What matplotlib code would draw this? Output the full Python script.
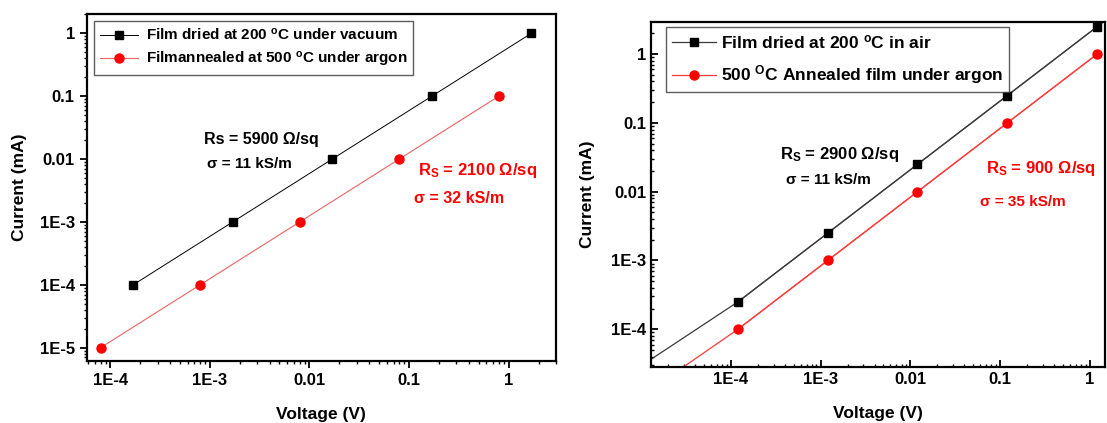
import numpy as np
import matplotlib
matplotlib.use("Agg")
import matplotlib.pyplot as plt
from matplotlib.ticker import FixedLocator, FixedFormatter, LogLocator, NullFormatter

plt.rcParams['font.family'] = ['Liberation Sans', 'DejaVu Sans']
plt.rcParams['font.weight'] = 'bold'
plt.rcParams['mathtext.fontset'] = 'custom'
plt.rcParams['mathtext.rm'] = 'Liberation Sans:bold'
plt.rcParams['mathtext.bf'] = 'Liberation Sans:bold'
plt.rcParams['mathtext.it'] = 'Liberation Sans:bold'

# left panel: vacuum-dried film vs argon-annealed film
vac_v = [1.7e-4, 1.7e-3, 0.017, 0.17, 1.7]
vac_i = [1e-4, 1e-3, 0.01, 0.1, 1]
arg1_v = [8e-5, 8e-4, 0.008, 0.08, 0.8]
arg1_i = [1e-5, 1e-4, 1e-3, 0.01, 0.1]

# right panel: air-dried film vs argon-annealed film (points + fit lines)
air_v = [1.2e-4, 1.2e-3, 0.012, 0.12, 1.2]
air_i = [2.5e-4, 2.5e-3, 0.025, 0.25, 2.5]
arg2_v = [1.2e-4, 1.2e-3, 0.012, 0.12, 1.2]
arg2_i = [1e-4, 1e-3, 0.01, 0.1, 1]
air_fit_v = [1.31e-5, 1.2e-4, 1.2e-3, 0.012, 0.12, 1.2, 1.5]
air_fit_i = [3.7e-5, 2.5e-4, 2.5e-3, 0.025, 0.25, 2.5, 3.1]
arg2_fit_v = [3.0e-5, 1.2e-4, 1.2e-3, 0.012, 0.12, 1.2]
arg2_fit_i = [2.86e-5, 1e-4, 1e-3, 0.01, 0.1, 1]

x_ticks = [1e-4, 1e-3, 0.01, 0.1, 1]
x_labels = ['1E-4', '1E-3', '0.01', '0.1', '1']
y_ticks_l = [1e-5, 1e-4, 1e-3, 0.01, 0.1, 1]
y_labels_l = ['1E-5', '1E-4', '1E-3', '0.01', '0.1', '1']
y_ticks_r = [1e-4, 1e-3, 0.01, 0.1, 1]
y_labels_r = ['1E-4', '1E-3', '0.01', '0.1', '1']

fig = plt.figure(figsize=(11.07, 4.23), dpi=100)
ax1 = fig.add_axes([0.0783, 0.1466, 0.424, 0.8196])
ax2 = fig.add_axes([0.5885, 0.1331, 0.4097, 0.8142])


def setup(ax, yt, yl, direction, tsize):
    ax.set_xscale('log')
    ax.set_yscale('log')
    ax.xaxis.set_major_locator(FixedLocator(x_ticks))
    ax.xaxis.set_major_formatter(FixedFormatter(x_labels))
    ax.yaxis.set_major_locator(FixedLocator(yt))
    ax.yaxis.set_major_formatter(FixedFormatter(yl))
    ax.xaxis.set_minor_locator(LogLocator(base=10, subs=np.arange(2, 10)))
    ax.yaxis.set_minor_locator(LogLocator(base=10, subs=np.arange(2, 10)))
    ax.xaxis.set_minor_formatter(NullFormatter())
    ax.yaxis.set_minor_formatter(NullFormatter())
    ax.tick_params(which='major', direction=direction, length=5, width=1.3,
                   labelsize=tsize, top=False, right=False)
    ax.tick_params(which='minor', direction=direction, length=2.5, width=1.0,
                   top=False, right=False)
    for lab in ax.get_xticklabels() + ax.get_yticklabels():
        lab.set_fontweight('bold')
    for s in ax.spines.values():
        s.set_linewidth(1.6)
    ax.set_xlabel('Voltage (V)', fontsize=12.5, fontweight='bold', labelpad=14)
    ax.set_ylabel('Current (mA)', fontsize=12.5, fontweight='bold')


# ---- left panel
ax1.plot(vac_v, vac_i, color='black', lw=0.7, marker='s', ms=6,
         mfc='black', mec='black', label='Film dried at 200 $^{o}$C under vacuum')
ax1.plot(arg1_v, arg1_i, color='#ea6464', lw=0.8, marker='o', ms=6.5,
         mfc='#ff0000', mec='#ff0000', label='Filmannealed at 500 $^{o}$C under argon')
ax1.set_xlim(5.8e-5, 3.0)
ax1.set_ylim(6.15e-6, 2.0)
setup(ax1, y_ticks_l, y_labels_l, 'out', 12)
ax1.yaxis.set_label_coords(-0.127, 0.5)
leg1 = ax1.legend(loc='upper left', bbox_to_anchor=(0.0147, 0.981), borderaxespad=0,
                  fancybox=False, edgecolor='#333333', fontsize=11,
                  handlelength=2.5, handletextpad=0.5, labelspacing=0.45,
                  borderpad=0.4)
leg1.get_frame().set_linewidth(1.0)

ax1.text(0.249, 0.626, 'Rs = 5900 Ω/sq', transform=ax1.transAxes,
         fontsize=11.5, fontweight='bold', color='black')
ax1.text(0.256, 0.558, 'σ = 11 kS/m', transform=ax1.transAxes,
         fontsize=11, fontweight='bold', color='black')
ax1.text(0.706, 0.536, 'R$_\\mathbf{S}$ = 2100 Ω/sq', transform=ax1.transAxes,
         fontsize=12, fontweight='bold', color='#ff0000')
ax1.text(0.697, 0.455, 'σ = 32 kS/m', transform=ax1.transAxes,
         fontsize=11.5, fontweight='bold', color='#ff0000')

# ---- right panel
ax2.plot(air_fit_v, air_fit_i, color='#3a3a3a', lw=0.9)
ax2.plot(arg2_fit_v, arg2_fit_i, color='#ff3a3a', lw=0.9)
ax2.plot(air_v, air_i, color='#3a3a3a', lw=0.9, marker='s', ms=6,
         mfc='black', mec='black', label='Film dried at 200 $^{o}$C in air')
ax2.plot(arg2_v, arg2_i, color='#ff3a3a', lw=0.9, marker='o', ms=6.5,
         mfc='#ff0000', mec='#ff0000', label='500 $^{\\mathbf{O}}$C Annealed film under argon')
ax2.set_xlim(1.31e-5, 1.47)
ax2.set_ylim(2.86e-5, 2.9)
setup(ax2, y_ticks_r, y_labels_r, 'in', 12)
ax2.yaxis.set_label_coords(-0.125, 0.5)
leg2 = ax2.legend(loc='upper left', bbox_to_anchor=(0.0329, 0.9855), borderaxespad=0,
                  fancybox=False, edgecolor='#333333', fontsize=12.5,
                  handlelength=2.5, handletextpad=0.3, labelspacing=0.7,
                  borderpad=0.35)
leg2.get_frame().set_linewidth(1.0)

ax2.text(0.284, 0.602, 'R$_\\mathbf{S}$ = 2900 Ω/sq', transform=ax2.transAxes,
         fontsize=12, fontweight='bold', color='black')
ax2.text(0.297, 0.530, 'σ = 11 kS/m', transform=ax2.transAxes,
         fontsize=11, fontweight='bold', color='black')
ax2.text(0.738, 0.562, 'R$_\\mathbf{S}$ = 900 Ω/sq', transform=ax2.transAxes,
         fontsize=12, fontweight='bold', color='#ff0000')
ax2.text(0.725, 0.467, 'σ = 35 kS/m', transform=ax2.transAxes,
         fontsize=11, fontweight='bold', color='#ff0000')

fig.savefig('out.png', dpi=100)
